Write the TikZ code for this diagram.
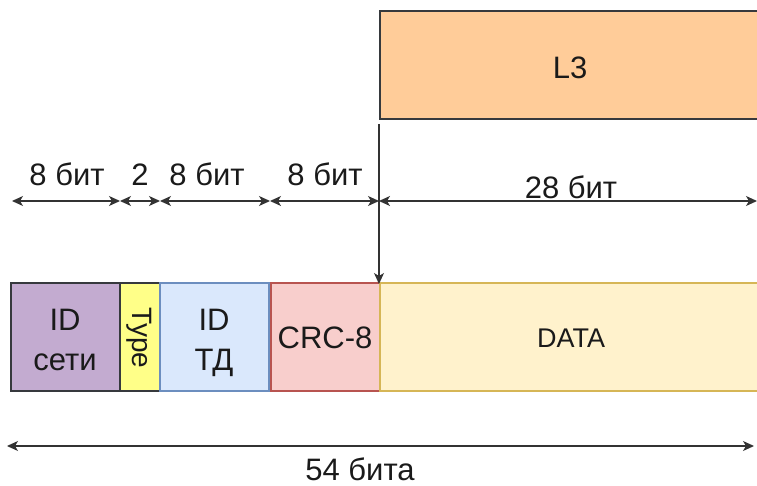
\documentclass[tikz,border=0pt]{standalone}
\usepackage{fontspec}
\setmainfont{Liberation Sans}
\usetikzlibrary{arrows.meta}
\definecolor{txt}{HTML}{1A1A1A}
\definecolor{lnc}{HTML}{333333}
\definecolor{idfill}{HTML}{C3ABD0}
\definecolor{idline}{HTML}{36393D}
\definecolor{tyfill}{HTML}{FFFF88}
\definecolor{tdfill}{HTML}{DAE8FC}
\definecolor{tdline}{HTML}{6C8EBF}
\definecolor{crcfill}{HTML}{F8CECC}
\definecolor{crcline}{HTML}{B85450}
\definecolor{datfill}{HTML}{FFF2CC}
\definecolor{datline}{HTML}{D6B656}
\definecolor{lfill}{HTML}{FFCC99}
\tikzset{
  fld/.style={line width=1.1pt},
  lbl/.style={font=\fontsize{31}{37}\selectfont, text=txt, inner sep=0pt, anchor=base},
  dim/.style={line width=1.3pt, draw=lnc, {Stealth[length=11pt,width=10pt,inset=3pt]}-{Stealth[length=11pt,width=10pt,inset=3pt]}},
  conn/.style={line width=1.3pt, draw=lnc, -{Stealth[length=11pt,width=10pt,inset=3pt]}},
}
\begin{document}
\begin{tikzpicture}[x=1pt,y=-1pt]
\useasboundingbox (0,0) rectangle (757,486);
% boxes
\draw[fld, fill=lfill, draw=idline] (380,11) rectangle (770,119);
\node[lbl] (l3) at (570,79) {L3};
\draw[fld, fill=idfill, draw=idline] (11,283) rectangle (120,391);
\draw[fld, fill=tyfill, draw=idline] (120,283) rectangle (160,391);
\draw[fld, fill=tdfill, draw=tdline] (160,283) rectangle (269,391);
\draw[fld, fill=crcfill, draw=crcline] (271,283) rectangle (380,391);
\draw[fld, fill=datfill, draw=datline] (380,283) rectangle (770,391);
\node[lbl] (id1) at (65,330) {ID};
\node[lbl] (id2) at (65,370) {сети};
\node[font=\fontsize{28}{33}\selectfont, text=txt, inner sep=0pt, rotate=-90] (type) at (139,338) {Type};
\node[lbl] (td1) at (214,330) {ID};
\node[lbl] (td2) at (214,370) {ТД};
\node[lbl] (crc) at (325,348) {CRC-8};
\node[lbl, font=\fontsize{27}{32}\selectfont] (data) at (571,347) {DATA};
% dimension coordinates
\coordinate (d0) at (12,201);
\coordinate (d1) at (120,201);
\coordinate (d2) at (160,201);
\coordinate (d3) at (270,201);
\coordinate (d4) at (379,201);
\coordinate (d5) at (757,201);
\draw[dim] (d0) -- (d1);
\draw[dim] (d1) -- (d2);
\draw[dim] (d2) -- (d3);
\draw[dim] (d3) -- (d4);
\draw[dim] (d4) -- (d5);
\node[lbl] (t1) at (67,186) {8 бит};
\node[lbl] (t2) at (140,186) {2};
\node[lbl] (t3) at (207,186) {8 бит};
\node[lbl] (t4) at (325,186) {8 бит};
\node[lbl] (t5) at (571,199) {28 бит};
% vertical connector
\coordinate (vs) at (379,124);
\coordinate (ve) at (379,284);
\draw[conn] (vs) -- (ve);
% total
\coordinate (b0) at (7,446);
\coordinate (b1) at (754,446);
\draw[dim] (b0) -- (b1);
\node[lbl] (tot) at (360,480) {54 бита};
\end{tikzpicture}
\end{document}
